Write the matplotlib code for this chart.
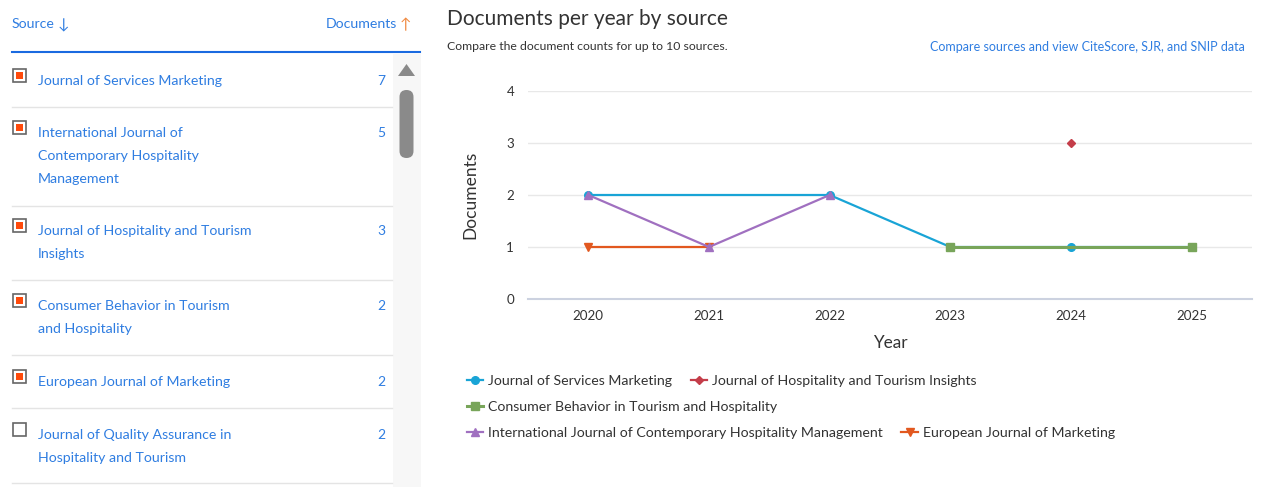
import matplotlib.pyplot as plt
from matplotlib.patches import Rectangle, FancyBboxPatch, Polygon

plt.rcParams['font.family'] = ['Lato', 'DejaVu Sans']

# table on the left
sources = [['Journal of Services Marketing'],
           ['International Journal of', 'Contemporary Hospitality', 'Management'],
           ['Journal of Hospitality and Tourism', 'Insights'],
           ['Consumer Behavior in Tourism', 'and Hospitality'],
           ['European Journal of Marketing'],
           ['Journal of Quality Assurance in', 'Hospitality and Tourism']]
counts = [7, 5, 3, 2, 2, 2]
checked = [True, True, True, True, True, False]

# chart series
years = [2020, 2021, 2022, 2023, 2024, 2025]
jsm_years = [2020, 2022, 2023, 2024, 2025]
jsm_docs = [2, 2, 1, 1, 1]
jhti_years = [2024]
jhti_docs = [3]
cbth_years = [2023, 2025]
cbth_docs = [1, 1]
ijchm_years = [2020, 2021, 2022]
ijchm_docs = [2, 1, 2]
ejm_years = [2020, 2021]
ejm_docs = [1, 1]

W, H = 1261, 487
link = '#2f7de1'
txt = '#333333'

fig = plt.figure(figsize=(W / 100, H / 100), dpi=100)

# background axes in pixel coordinates for the table / headings
bg = fig.add_axes([0, 0, 1, 1])
bg.set_xlim(0, W)
bg.set_ylim(H, 0)
bg.axis('off')

bg.text(12, 24, 'Source', color=link, fontsize=10.2, va='center', ha='left')
bg.text(58, 25, '↓', color=link, fontsize=11, va='center', ha='left')
bg.text(397, 24, 'Documents', color=link, fontsize=10.2, va='center', ha='right')
bg.text(400, 25, '↑', color='#f0883e', fontsize=11, va='center', ha='left')
bg.plot([12, 420], [52, 52], color='#1a6ae0', lw=1.5)

# scroll bar
bg.add_patch(Rectangle((393, 54), 28, 433, color='#f7f7f7', lw=0))
bg.add_patch(FancyBboxPatch((399.5, 90), 14, 68, boxstyle='round,pad=0,rounding_size=7',
                            color='#8a8a8a', lw=0))
bg.add_patch(Polygon([[398, 76], [415, 76], [406.5, 64]], closed=True, color='#8a8a8a', lw=0))

row_tops = [80, 132, 230, 305, 381, 434]
seps = [107, 206, 280, 355, 408, 483]
for lines, c, chk, y0, s in zip(sources, counts, checked, row_tops, seps):
    bg.add_patch(Rectangle((12.5, y0 - 11), 13, 13, fill=False, ec='#666666', lw=1.2))
    if chk:
        bg.add_patch(Rectangle((15.5, y0 - 8), 7, 7, color='#ff4a0b', lw=0))
    for i, line in enumerate(lines):
        bg.text(38, y0 + 1 + 23 * i, line, color=link, fontsize=10.2, va='center', ha='left')
    bg.text(385, y0 + 1, str(c), color=link, fontsize=10, va='center', ha='right')
    bg.plot([12, 392], [s, s], color='#e4e4e4', lw=1)

bg.text(447, 19, 'Documents per year by source', color=txt, fontsize=15, va='center')
bg.text(447, 47, 'Compare the document counts for up to 10 sources.', color=txt,
        fontsize=8.8, va='center')
bg.text(1245, 47, 'Compare sources and view CiteScore, SJR, and SNIP data', color=link,
        fontsize=9, va='center', ha='right')

# chart
ax = fig.add_axes([528 / W, 1 - 299 / H, 724 / W, 208 / H])
ax.plot(jsm_years, jsm_docs, color='#19a4d6', lw=1.6, marker='o', ms=5.5,
        label='Journal of Services Marketing', zorder=3)
ax.plot(jhti_years, jhti_docs, color='#c43d49', lw=1.6, marker='D', ms=4.5,
        label='Journal of Hospitality and Tourism Insights', zorder=3)
ax.plot(cbth_years, cbth_docs, color='#78a55a', lw=2.2, marker='s', ms=6,
        label='Consumer Behavior in Tourism and Hospitality', zorder=4)
ax.plot(ijchm_years, ijchm_docs, color='#a070c0', lw=1.6, marker='^', ms=6,
        label='International Journal of Contemporary Hospitality Management', zorder=3)
ax.plot(ejm_years, ejm_docs, color='#e2581f', lw=1.6, marker='v', ms=6,
        label='European Journal of Marketing', zorder=2)

ax.set_xlim(2019.5, 2025.5)
ax.set_ylim(0, 4)
ax.set_xticks(years)
ax.set_yticks([0, 1, 2, 3, 4])
ax.grid(axis='y', color='#e8e8e8', lw=1)
ax.set_axisbelow(True)
for side in ['top', 'right', 'left']:
    ax.spines[side].set_visible(False)
ax.spines['bottom'].set_color('#ccd2e0')
ax.spines['bottom'].set_linewidth(1.5)
ax.tick_params(length=0, labelsize=9.6, labelcolor=txt)
ax.tick_params(axis='x', pad=8)
ax.tick_params(axis='y', pad=10)
ax.set_xlabel('Year', fontsize=12.4, color=txt, labelpad=9)
ax.set_ylabel('Documents', fontsize=12.5, color=txt, labelpad=20)

# legend rows laid out like the original (wrapped by width)
h, l = ax.get_legend_handles_labels()
rows = [([0, 1], 381), ([2], 407), ([3, 4], 433)]
for idx, y in rows:
    leg = fig.legend([h[i] for i in idx], [l[i] for i in idx], loc='center left',
                     bbox_to_anchor=(467 / W, 1 - y / H), ncol=len(idx), frameon=False,
                     fontsize=10.2, handlelength=1.15, handletextpad=0.35,
                     columnspacing=1.3, borderaxespad=0, borderpad=0)
    for t in leg.get_texts():
        t.set_color(txt)

fig.savefig('out.png', dpi=100)
